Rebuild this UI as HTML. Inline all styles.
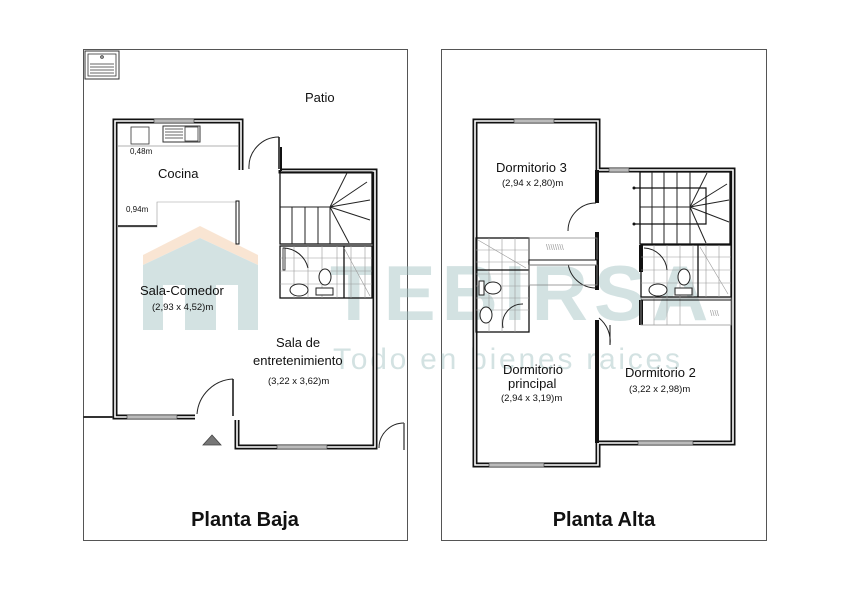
<!DOCTYPE html>
<html><head><meta charset="utf-8"><style>
html,body{margin:0;padding:0;background:#fff;}
svg{display:block;font-family:"Liberation Sans",Arial,sans-serif;}
.w{fill:none;stroke:#111;stroke-width:5;stroke-linejoin:miter;}
.wi{fill:none;stroke:#fff;stroke-width:1.6;}
.t{stroke:#222;stroke-width:1;fill:none;}
.f{stroke:#999;stroke-width:.6;fill:none;}
</style></head><body>
<svg width="842" height="595" viewBox="0 0 842 595">
<rect width="842" height="595" fill="#fff"/>
<rect x="83.5" y="49.5" width="324" height="491" fill="none" stroke="#555" stroke-width="1"/>
<rect x="441.5" y="49.5" width="325" height="491" fill="none" stroke="#555" stroke-width="1"/>

<g opacity="0.45">
<path d="M143 255 L200 226 L258 255 L258 265 L200 238 L143 265 Z" fill="#f3c7a0"/>
<path d="M143 265 L200 238 L258 265 L258 330 L143 330 Z" fill="#9fbfc0"/>
<rect x="163" y="285" width="22" height="45" fill="#fff"/>
<rect x="216" y="285" width="22" height="45" fill="#fff"/>
<text x="330" y="320" font-size="78" font-weight="bold" fill="#9fbfc0" letter-spacing="6">TEBIRSA</text>
<text x="333" y="369" font-size="30" fill="#9fbfc0" textLength="347" lengthAdjust="spacing">Todo en bienes raices</text>
</g>

<rect x="85" y="51" width="34" height="28" fill="none" stroke="#333" stroke-width="1"/>
<rect x="88" y="54" width="28" height="22" fill="none" stroke="#333" stroke-width=".8"/>
<circle cx="102" cy="57" r="1.3" fill="none" stroke="#333"/>
<g stroke="#333" stroke-width=".8"><line x1="90" y1="64" x2="114" y2="64"/><line x1="90" y1="67" x2="114" y2="67"/><line x1="90" y1="70" x2="114" y2="70"/><line x1="90" y1="73" x2="114" y2="73"/></g>
<text x="305" y="102" font-size="13" fill="#111">Patio</text>

<g>
<polyline class="w" points="195,417 115,417 115,121 241,121 241,170"/>
<polyline class="w" points="281,170 281,171 375,171 375,447 237,447 237,420"/>
<polyline class="wi" points="195,417 115,417 115,121 241,121 241,170"/>
<polyline class="wi" points="281,171 375,171 375,447 237,447 237,420"/>
<line x1="281" y1="147" x2="281" y2="171" stroke="#111" stroke-width="2"/>
</g>
<line x1="83" y1="417" x2="113" y2="417" stroke="#333" stroke-width="2"/>
<rect x="154" y="119" width="40" height="4" fill="#bbb" stroke="#333" stroke-width=".6"/>
<rect x="127" y="415" width="50" height="4" fill="#bbb" stroke="#333" stroke-width=".6"/>
<rect x="277" y="445" width="50" height="4" fill="#bbb" stroke="#333" stroke-width=".6"/>
<rect x="131" y="127" width="18" height="17" fill="none" stroke="#333" stroke-width=".8"/>
<rect x="163" y="126" width="37" height="16" fill="none" stroke="#333" stroke-width="1"/>
<g stroke="#333" stroke-width=".8"><line x1="165" y1="129" x2="183" y2="129"/><line x1="165" y1="132" x2="183" y2="132"/><line x1="165" y1="135" x2="183" y2="135"/><line x1="165" y1="138" x2="183" y2="138"/></g>
<rect x="185" y="127" width="13" height="14" fill="none" stroke="#333" stroke-width=".8"/>
<line x1="118" y1="146" x2="238" y2="146" stroke="#999" stroke-width=".7"/>
<text x="130" y="154" font-size="8" fill="#111">0,48m</text>
<text x="158" y="178" font-size="13" fill="#111">Cocina</text>
<polyline points="118,227 157,227 157,202 238,202" class="f" stroke="#777"/>
<line x1="118" y1="226" x2="157" y2="226" stroke="#111" stroke-width="1.5"/>
<rect x="236" y="201" width="3" height="43" fill="#fff" stroke="#111" stroke-width="1"/>
<text x="126" y="212" font-size="8" fill="#111">0,94m</text>
<path d="M249 169 A30 30 0 0 1 279 137" class="t"/>
<line x1="279" y1="137" x2="279" y2="169" stroke="#111" stroke-width="1.5"/>
<rect x="280" y="172" width="92" height="72" fill="none" stroke="#111" stroke-width="1.3"/>
<g class="t"><line x1="280" y1="207" x2="330" y2="207"/><line x1="292" y1="207" x2="292" y2="244"/><line x1="305" y1="207" x2="305" y2="244"/><line x1="318" y1="207" x2="318" y2="244"/><line x1="330" y1="207" x2="330" y2="244"/>
<line x1="330" y1="207" x2="347" y2="173"/><line x1="330" y1="207" x2="367" y2="182"/><line x1="330" y1="207" x2="370" y2="200"/><line x1="330" y1="207" x2="370" y2="220"/><line x1="330" y1="207" x2="349" y2="243"/></g>
<rect x="280" y="246" width="92" height="52" fill="none" stroke="#111" stroke-width="1.3"/>
<g class="f"><line x1="280" y1="258" x2="372" y2="258"/><line x1="280" y1="271" x2="372" y2="271"/><line x1="280" y1="284" x2="372" y2="284"/><line x1="294" y1="246" x2="294" y2="298"/><line x1="308" y1="246" x2="308" y2="298"/><line x1="322" y1="246" x2="322" y2="298"/><line x1="337" y1="246" x2="337" y2="298"/><line x1="351" y1="246" x2="351" y2="298"/><line x1="365" y1="246" x2="365" y2="298"/></g>
<line x1="344" y1="246" x2="344" y2="298" stroke="#111" stroke-width="1.3"/>
<line x1="344" y1="248" x2="370" y2="296" class="f"/>
<path d="M283 248 A26 26 0 0 1 308 268" class="t" fill="#fff"/>
<rect x="283" y="248" width="2" height="22" fill="#fff" stroke="#111" stroke-width=".8"/>
<ellipse cx="299" cy="290" rx="9" ry="6" fill="#fff" stroke="#222"/>
<ellipse cx="325" cy="277" rx="6" ry="8" fill="#fff" stroke="#222"/>
<rect x="316" y="288" width="17" height="7" fill="#fff" stroke="#222"/>
<text x="140" y="295" font-size="13" fill="#111">Sala-Comedor</text>
<text x="152" y="310" font-size="9.5" fill="#111">(2,93 x 4,52)m</text>
<text x="276" y="347" font-size="13" fill="#111">Sala de</text>
<text x="253" y="365" font-size="13" fill="#111">entretenimiento</text>
<text x="268" y="384" font-size="9.5" fill="#111">(3,22 x 3,62)m</text>
<path d="M197 414 A38 38 0 0 1 233 379" class="t"/>
<line x1="233" y1="379" x2="233" y2="416" stroke="#111" stroke-width="1.5"/>
<polygon points="212,435 203,445 221,445" fill="#777" stroke="#444" stroke-width=".8"/>
<path d="M379 448 A25 25 0 0 1 404 423" class="t"/>
<line x1="404" y1="423" x2="404" y2="450" stroke="#555" stroke-width="1.5"/>

<text x="245" y="526" font-size="20" font-weight="bold" fill="#111" text-anchor="middle">Planta Baja</text>

<polyline class="w" points="598,443 598,465 475,465 475,121 598,121 598,170 733,170 733,443 598,443"/>
<polyline class="wi" points="598,443 598,465 475,465 475,121 598,121 598,170 733,170 733,443 598,443"/>
<rect x="514" y="119" width="40" height="4" fill="#bbb" stroke="#333" stroke-width=".6"/>
<rect x="609" y="168" width="20" height="4" fill="#bbb" stroke="#333" stroke-width=".6"/>
<rect x="489" y="463" width="55" height="4" fill="#bbb" stroke="#333" stroke-width=".6"/>
<rect x="638" y="441" width="55" height="4" fill="#bbb" stroke="#333" stroke-width=".6"/>
<g stroke="#111" stroke-width="4" fill="none">
<line x1="597" y1="170" x2="597" y2="203"/>
<line x1="597" y1="232" x2="597" y2="290"/>
<line x1="597" y1="320" x2="597" y2="443"/>
<line x1="641" y1="245" x2="641" y2="272"/>
<line x1="641" y1="300" x2="641" y2="325"/>
</g>
<path d="M596 203 A28 28 0 0 0 568 231" class="t"/>
<path d="M596 288 A28 28 0 0 1 568 262" class="t"/>
<path d="M599 318 A30 30 0 0 1 610 345" class="t"/>
<line x1="610" y1="325" x2="610" y2="345" stroke="#111" stroke-width="1"/>
<rect x="476" y="238" width="53" height="94" fill="none" stroke="#111" stroke-width="1.3"/>
<g class="f"><line x1="476" y1="250" x2="529" y2="250"/><line x1="476" y1="262" x2="529" y2="262"/><line x1="476" y1="274" x2="529" y2="274"/><line x1="476" y1="286" x2="529" y2="286"/><line x1="476" y1="298" x2="529" y2="298"/><line x1="476" y1="310" x2="529" y2="310"/><line x1="489" y1="238" x2="489" y2="332"/><line x1="502" y1="238" x2="502" y2="332"/><line x1="515" y1="238" x2="515" y2="332"/><line x1="478" y1="240" x2="526" y2="268"/></g>
<line x1="476" y1="270" x2="529" y2="270" stroke="#111" stroke-width="1.3"/>
<ellipse cx="493" cy="288" rx="8" ry="6" fill="#fff" stroke="#222"/>
<rect x="479" y="281" width="5" height="14" fill="#fff" stroke="#222"/>
<ellipse cx="486" cy="315" rx="6" ry="8" fill="#fff" stroke="#222"/>
<path d="M503 328 A20 20 0 0 1 523 304" class="t"/>
<rect x="529" y="238" width="68" height="22" fill="none" stroke="#888" stroke-width=".8"/>
<rect x="529" y="260" width="68" height="5" fill="#fff" stroke="#111" stroke-width="1"/>
<rect x="529" y="265" width="68" height="20" fill="none" stroke="#888" stroke-width=".8"/>
<text x="546" y="250" font-size="8" fill="#999">\\\\\\\\</text>
<rect x="640" y="172" width="90" height="72" fill="none" stroke="#111" stroke-width="1.3"/>
<g class="t"><line x1="640" y1="207" x2="690" y2="207"/><line x1="652" y1="172" x2="652" y2="244"/><line x1="664" y1="172" x2="664" y2="244"/><line x1="677" y1="172" x2="677" y2="244"/><line x1="690" y1="172" x2="690" y2="244"/>
<line x1="690" y1="207" x2="707" y2="173"/><line x1="690" y1="207" x2="727" y2="184"/><line x1="690" y1="207" x2="729" y2="200"/><line x1="690" y1="207" x2="729" y2="222"/><line x1="690" y1="207" x2="706" y2="243"/></g>
<polyline points="634,188 706,188 706,224 634,224" fill="none" stroke="#111" stroke-width="1.2"/>
<circle cx="634" cy="188" r="1.5" fill="#111"/><circle cx="634" cy="224" r="1.5" fill="#111"/>
<rect x="641" y="245" width="90" height="52" fill="none" stroke="#111" stroke-width="1.3"/>
<g class="f"><line x1="641" y1="257" x2="731" y2="257"/><line x1="641" y1="270" x2="731" y2="270"/><line x1="641" y1="283" x2="731" y2="283"/><line x1="654" y1="245" x2="654" y2="325"/><line x1="667" y1="245" x2="667" y2="325"/><line x1="680" y1="245" x2="680" y2="325"/><line x1="693" y1="245" x2="693" y2="297"/><line x1="706" y1="245" x2="706" y2="297"/><line x1="719" y1="245" x2="719" y2="297"/><line x1="700" y1="247" x2="728" y2="294"/></g>
<line x1="698" y1="245" x2="698" y2="297" stroke="#111" stroke-width="1.3"/>
<path d="M644 248 A24 24 0 0 1 667 270" class="t"/>
<ellipse cx="658" cy="290" rx="9" ry="6" fill="#fff" stroke="#222"/>
<ellipse cx="684" cy="277" rx="6" ry="8" fill="#fff" stroke="#222"/>
<rect x="675" y="288" width="17" height="7" fill="#fff" stroke="#222"/>
<rect x="641" y="298" width="90" height="27" fill="none" stroke="#999" stroke-width=".8"/>
<line x1="641" y1="300" x2="731" y2="300" stroke="#111" stroke-width="1"/>
<text x="710" y="316" font-size="8" fill="#999">\\\\</text>

<text x="496" y="172" font-size="13" fill="#111">Dormitorio 3</text>
<text x="502" y="186" font-size="9.5" fill="#111">(2,94 x 2,80)m</text>
<text x="503" y="374" font-size="13" fill="#111">Dormitorio</text>
<text x="508" y="388" font-size="13" fill="#111">principal</text>
<text x="501" y="401" font-size="9.5" fill="#111">(2,94 x 3,19)m</text>
<text x="625" y="377" font-size="13" fill="#111">Dormitorio 2</text>
<text x="629" y="392" font-size="9.5" fill="#111">(3,22 x 2,98)m</text>

<text x="604" y="526" font-size="20" font-weight="bold" fill="#111" text-anchor="middle">Planta Alta</text>
</svg>
</body></html>
